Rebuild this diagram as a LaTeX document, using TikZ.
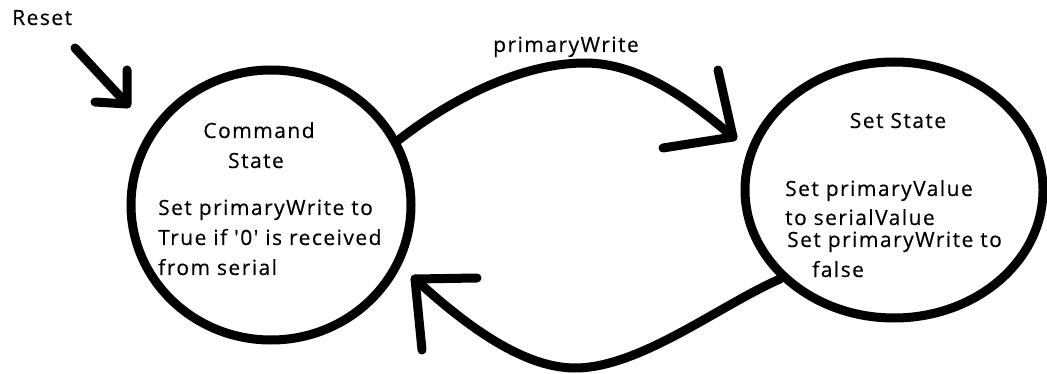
\documentclass[tikz,border=0pt]{standalone}
\usepackage{fontspec}
\usetikzlibrary{shapes.geometric}
\newfontfamily\sketchfont{Open Sans}[LetterSpace=7, FakeBold=0.4]
\begin{document}
\begin{tikzpicture}[x=1pt,y=-1pt,
  stroke/.style={line width=9pt, line cap=round, line join=round},
  state/.style={ellipse, draw, line width=9pt, inner sep=0pt},
  txt/.style={inner sep=0pt, font=\sketchfont\fontsize{21}{30}\selectfont, text=black},
]
\useasboundingbox (0,0) rectangle (1047,374);

% states
\node[state, minimum width=280, minimum height=270] (cmd) at (271,205) {};
\node[state, minimum width=298, minimum height=256] (set) at (894,190) {};

% free ends of the arrows
\coordinate (rs) at (75,48);
\coordinate (rt) at (127,104);
\coordinate (t1) at (733,137);
\coordinate (t2) at (415,279);

% reset arrow
\draw[stroke] (rs) -- (rt);
\draw[stroke] (rt) ++(0,-34) -- (rt) -- ++(-32,-2);

% Command -> Set
\draw[stroke] (cmd.27) .. controls (450,100) and (520,63) .. (585,63)
  .. controls (640,63) and (690,100) .. (t1);
\draw[stroke] (t1) ++(-15,-67) -- (t1) -- ++(-70,11);

% Set -> Command
\draw[stroke] (set.218) .. controls (720,305) and (640,368) .. (575,368)
  .. controls (520,368) and (460,320) .. (t2);
\draw[stroke] (t2) ++(62,-1) -- (t2) -- ++(7,71);

% labels
\node[txt, anchor=base west] (reset) at (12,25) {Reset};
\node[txt, anchor=base west] (lbl) at (493,52) {primaryWrite};

\node[txt, anchor=base] (c1) at (259,138) {Command};
\node[txt, anchor=base] (c2) at (256,168) {State};
\node[txt, anchor=base west] (c3) at (158,215) {Set primaryWrite to};
\node[txt, anchor=base west] (c4) at (158,245) {True if '0' is received};
\node[txt, anchor=base west] (c5) at (158,275) {from serial};

\node[txt, anchor=base] (s1) at (898,128) {Set State};
\node[txt, anchor=base west] (s2) at (785,196) {Set primaryValue};
\node[txt, anchor=base west] (s3) at (785,225) {to serialValue};
\node[txt, anchor=base west] (s4) at (787,247) {Set primaryWrite to};
\node[txt, anchor=base west] (s5) at (812,277) {false};
\end{tikzpicture}
\end{document}
